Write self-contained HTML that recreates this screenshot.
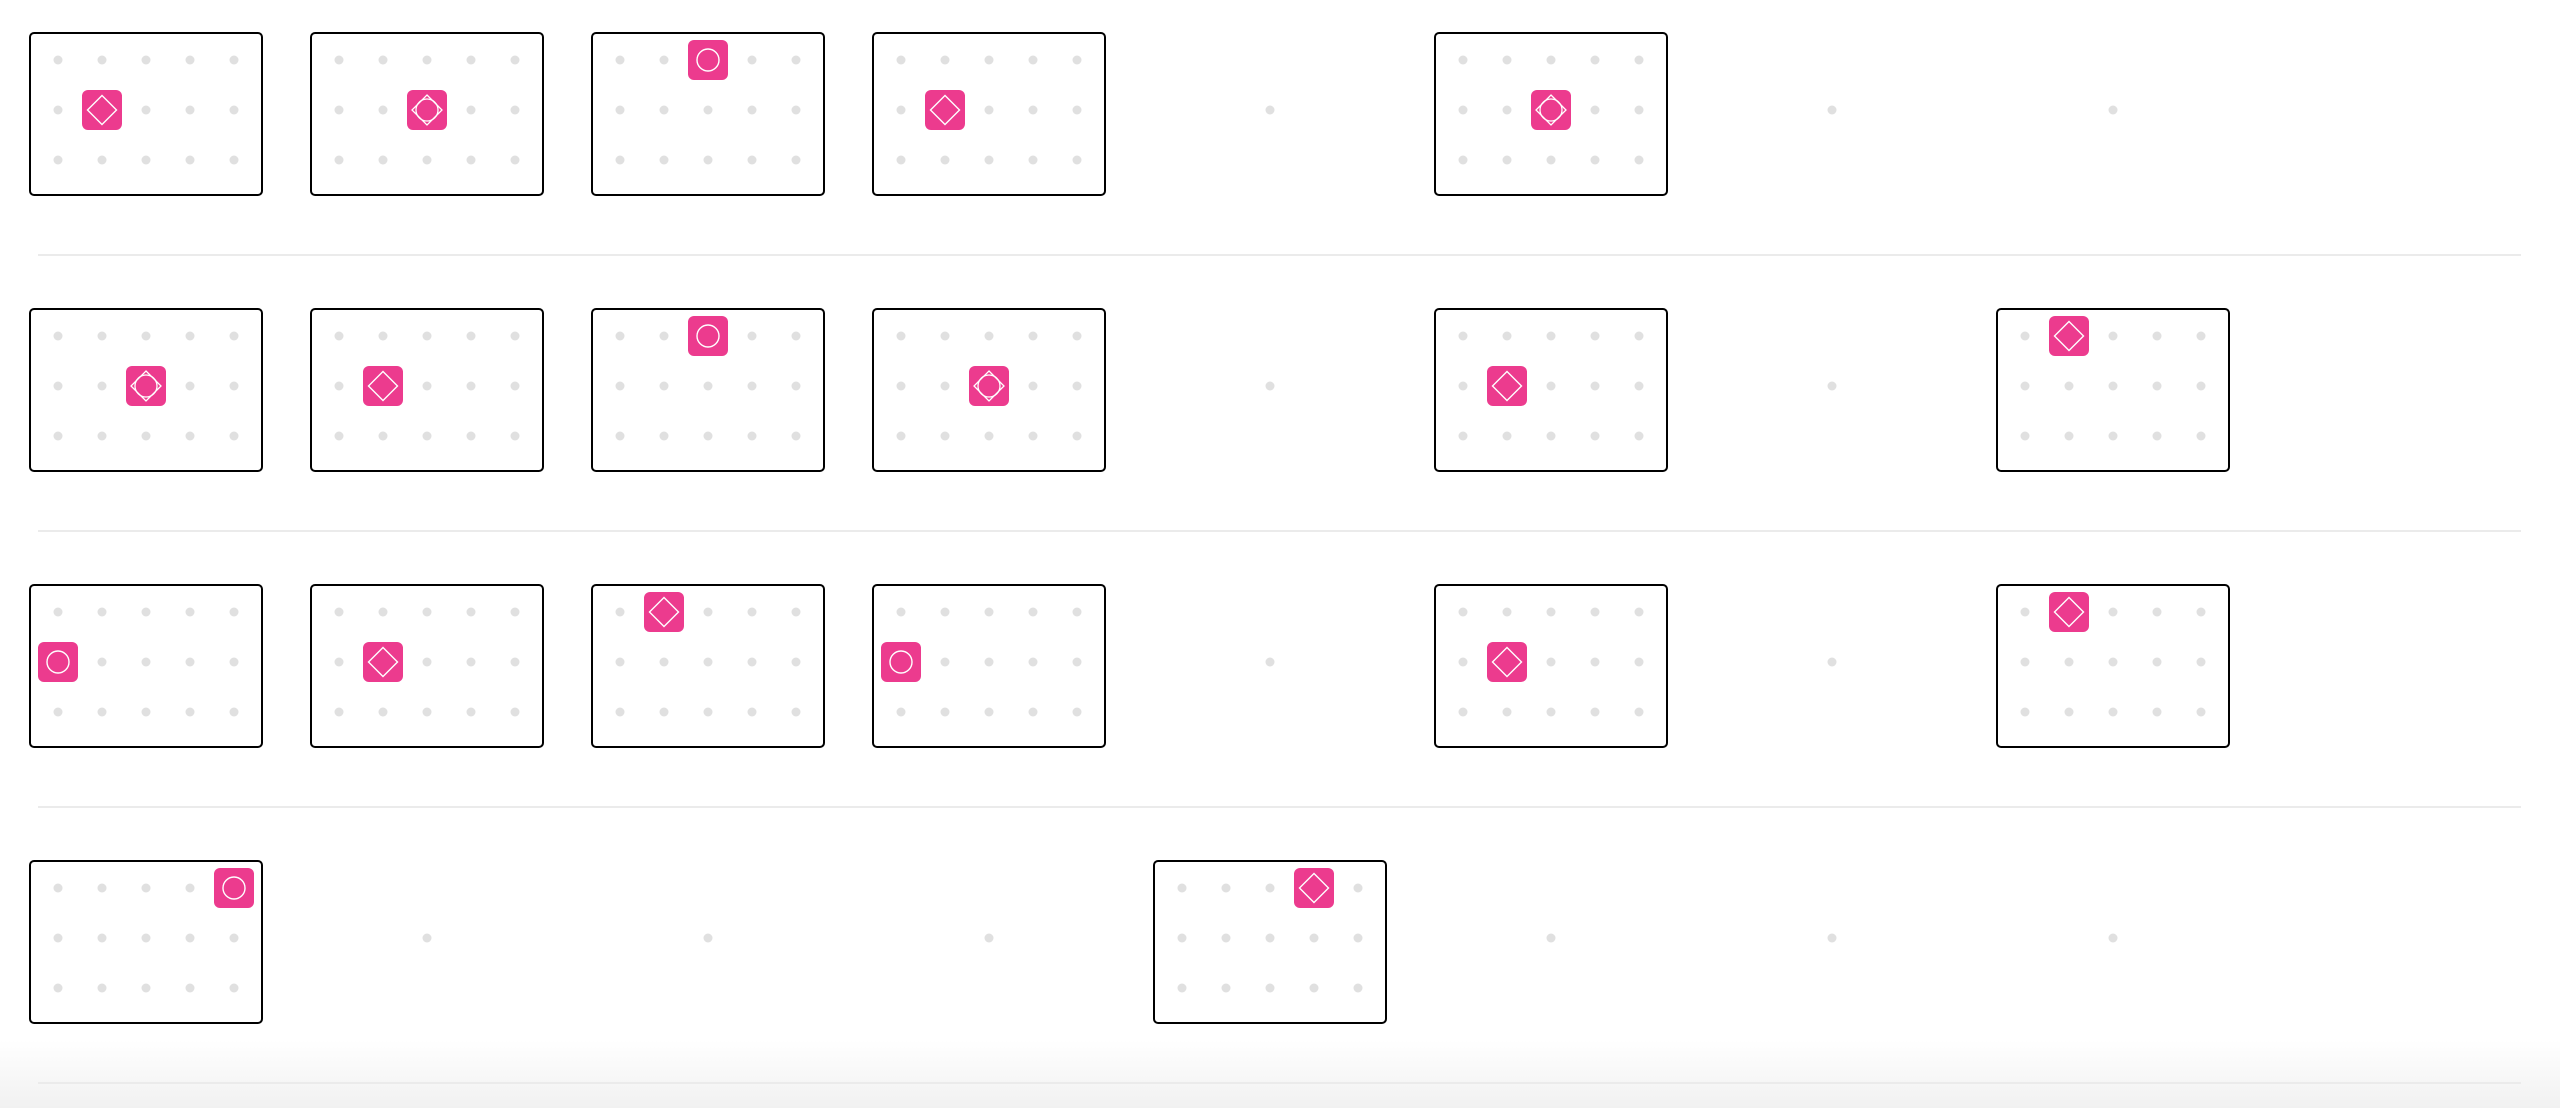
<!DOCTYPE html>
<html><head><meta charset="utf-8"><style>
html,body{margin:0;padding:0;background:#fff;width:2560px;height:1108px;overflow:hidden;position:relative;font-family:"Liberation Sans",sans-serif}
.box{position:absolute;width:230px;height:160px;border:2px solid #000;border-radius:5px;background:#fff}
.dot{position:absolute;width:9px;height:9px;border-radius:50%;background:#e0e0e0;transform:translate(-50%,-50%)}
.mark{position:absolute;width:40px;height:40px;border-radius:6px;background:#ec3b8e;transform:translate(-50%,-50%)}
.sep{position:absolute;left:38px;width:2483px;height:2px;background:#ebebeb}
.shade{position:absolute;left:0;top:1040px;width:2560px;height:68px;background:linear-gradient(#fff0,#f1f1f1)}
</style></head><body>
<div class="shade"></div>
<script>
// per row: 8 slots; null = empty slot, else [shape, dotCol, dotRow]
const row1 = [["d",1,1],["b",2,1],["c",2,0],["d",1,1],null,["b",2,1],null,null];
const row2 = [["b",2,1],["d",1,1],["c",2,0],["b",2,1],null,["d",1,1],null,["d",1,0]];
const row3 = [["c",0,1],["d",1,1],["d",1,0],["c",0,1],null,["d",1,1],null,["d",1,0]];
const row4 = [["c",4,0],null,null,null,["d",3,0],null,null,null];
const rows = [row1,row2,row3,row4];
const X0=29,PX=281,Y0=32,PY=276,DX=44,DY=50,DOX=27,DOY=26;
function icon(shape){
  let s='<svg width="40" height="40" viewBox="0 0 40 40" style="position:absolute;left:0;top:0">';
  if(shape==='d') s+='<polygon points="20,5.5 34.5,20 20,34.5 5.5,20" fill="none" stroke="#fff" stroke-width="1.4"/>';
  if(shape==='b') s+='<polygon points="20,5 35,20 20,35 5,20" fill="none" stroke="#fff" stroke-width="1.3"/><circle cx="20" cy="20" r="11" fill="none" stroke="#fff" stroke-width="1.3"/>';
  if(shape==='c') s+='<circle cx="20" cy="20" r="11" fill="none" stroke="#fff" stroke-width="1.4"/>';
  return s+'</svg>';
}
rows.forEach((row,ri)=>{
  const top=Y0+ri*PY;
  row.forEach((cell,ci)=>{
    const left=X0+ci*PX;
    if(!cell){
      const d=document.createElement('div');
      d.className='dot';
      d.style.left=(left+DOX+2*DX+2)+'px';d.style.top=(top+DOY+DY+2)+'px';
      
      
      document.body.appendChild(d);return;
    }
    const b=document.createElement('div');
    b.className='box';b.style.left=left+'px';b.style.top=top+'px';
    
    
    for(let r=0;r<3;r++)for(let c=0;c<5;c++){
      const d=document.createElement('div');d.className='dot';
      d.style.left=(DOX+c*DX)+'px';d.style.top=(DOY+r*DY)+'px';
      
      
      b.appendChild(d);
    }
    const m=document.createElement('div');m.className='mark';
    m.style.left=(DOX+cell[1]*DX)+'px';m.style.top=(DOY+cell[2]*DY)+'px';
    m.innerHTML=icon(cell[0]);
    
    
    b.appendChild(m);
    document.body.appendChild(b);
  });
  const s=document.createElement('div');s.className='sep';s.style.top=(top+222)+'px';
  
  
  document.body.appendChild(s);
});
</script>
</body></html>
